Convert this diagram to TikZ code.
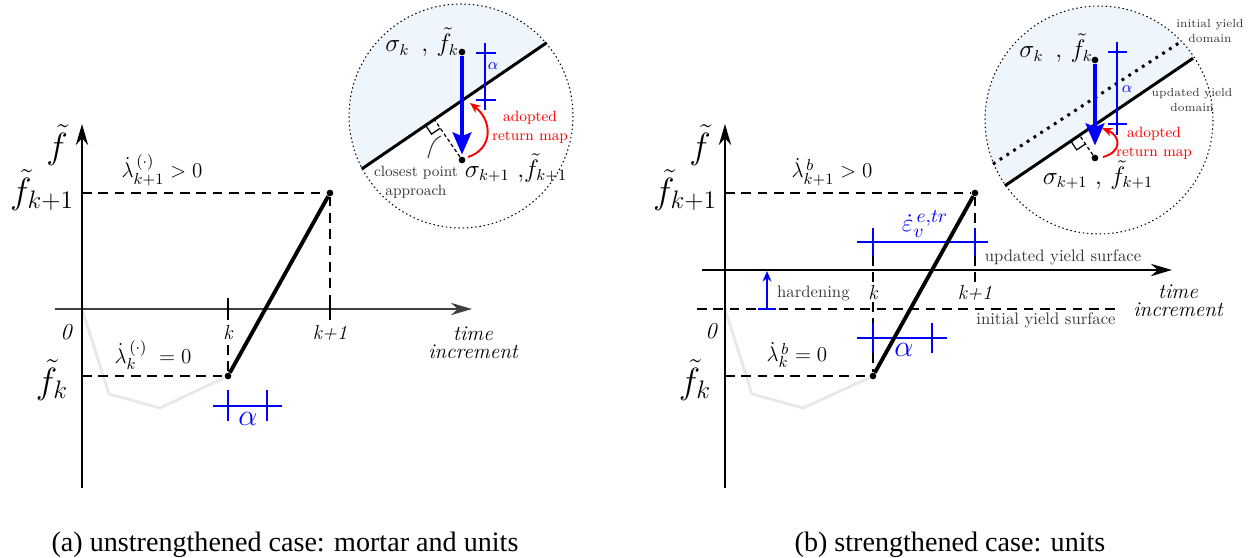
\documentclass[tikz,border=0pt]{standalone}
\usepackage{fontspec}
\newfontfamily\capfont{Liberation Serif}
\usetikzlibrary{arrows.meta,calc}

\definecolor{domainblue}{RGB}{238,246,252}
\definecolor{pathgray}{RGB}{232,232,232}
\definecolor{textgray}{RGB}{55,55,55}

\begin{document}
\begin{tikzpicture}[x=0.02cm,y=-0.02cm,
  axisline/.style={line width=1.1pt,-{Stealth[length=12pt,width=7pt]}},
  guide/.style={line width=0.8pt,dash pattern=on 5.5pt off 3.8pt},
  ramp/.style={line width=2.2pt},
  history/.style={line width=1.6pt,pathgray},
  bracket/.style={line width=1.2pt,blue},
  thinbracket/.style={line width=0.8pt,blue},
  vertex/.style={circle,fill=black,inner sep=0pt,minimum size=3.8pt},
  fval/.style={font=\fontsize{20}{22}\selectfont},
  rate/.style={font=\fontsize{12.5}{14}\selectfont},
  steplabel/.style={font=\fontsize{11.5}{13}\selectfont\itshape},
  remark/.style={font=\fontsize{9.5}{11}\selectfont,text=textgray},
  inset/.style={line width=0.6pt,dash pattern=on 0.8pt off 1.6pt},
  yield/.style={line width=1.7pt},
  retmap/.style={line width=2.8pt,blue,-{Stealth[length=12.5pt,width=10.5pt,inset=2pt]}},
  adopt/.style={line width=1.1pt,red,-{Stealth[length=6pt,width=5pt]}},
  stress/.style={font=\fontsize{13.5}{15}\selectfont},
  note/.style={font=\fontsize{8.5}{11}\selectfont,align=center},
  domainlabel/.style={font=\fontsize{6.7}{8.5}\selectfont,align=center,text=textgray},
  perp/.style={line width=0.7pt,dash pattern=on 2pt off 1.5pt},
  subcap/.style={font=\capfont\fontsize{16}{18}\selectfont},
]
\useasboundingbox (0,0) rectangle (1249,558);

%% ---------------- (a) unstrengthened ----------------
\coordinate (aO) at (82,309);
\coordinate (aTop) at (82,124);
\coordinate (aBot) at (82,488);
\coordinate (aXL) at (55,309);
\coordinate (aXR) at (472,309);
\coordinate (aFk1) at (82,193);
\coordinate (aFk) at (82,376);
\node[vertex] (aPk) at (228,376) {};
\node[vertex] (aPk1) at (330,193) {};

% history of f
\draw[history] (aO) -- (109,394) -- (160,408) -- (aPk);

% axes
\draw[axisline,black!75] (aXL) -- (aXR);
\draw[axisline] (aBot) -- (aTop);

% guides and ticks
\draw[guide] (aFk1) -- (aPk1);
\draw[guide] (aPk1) -- (330,299);
\draw[guide] (aFk) -- (aPk);
\draw[guide] (228,345) -- (aPk);
\draw[line width=0.8pt] (228,298) -- (228,320) (330,298) -- (330,320);

% trial step
\draw[ramp] (aPk) -- (aPk1);

% alpha
\draw[bracket] (213,406) -- (282,406) (228,390) -- (228,421) (267,390) -- (267,421);
\node[blue,font=\fontsize{16}{18}\selectfont] (aAlpha) at (248,419) {$\alpha$};

% labels
\node[fval] (aF) at (57,145) {$\tilde{f}$};
\node[fval] (aFk1l) at (42,190) {$\tilde{f}_{k+1}$};
\node[fval] (aFkl) at (52,380) {$\tilde{f}_k$};
\node[steplabel,font=\fontsize{13}{15}\selectfont\itshape] (aZero) at (66,332) {0};
\node[steplabel] (aK) at (228,333) {k};
\node[steplabel] (aK1) at (330,333) {k+1};
\node[steplabel,font=\fontsize{12}{10.3}\selectfont\itshape,align=center] (aTime) at (473,343) {time\\increment};
\node[rate] (aRk1) at (162,170) {$\dot{\lambda}^{\,(\cdot)}_{k+1} > 0$};
\node[rate] (aRk) at (153,355) {$\dot{\lambda}^{\,(\cdot)}_{k} \; = 0$};

% inset: return map
\coordinate (aC) at (461,116);
\coordinate (aYa) at (361.7,169);
\coordinate (aYb) at (546.7,42.7);
\begin{scope}
  \clip (aC) circle[radius=112];
  \fill[domainblue] ($(aYa)!-0.3!(aYb)$) -- ($(aYb)!-0.3!(aYa)$) -- ++(0,-150) -- ++(-400,0) -- cycle;
\end{scope}
\draw[inset] (aC) circle[radius=112];
\draw[yield] (aYa) -- (aYb);
\node[vertex] (aSk) at (462,52) {};
\node[vertex] (aSk1) at (462,160) {};
\coordinate (aFoot) at ($(aYa)!(aSk1)!(aYb)$);
\draw[perp] (aSk1) -- (aFoot);
\coordinate (aRa) at ($(aFoot)!6pt!(aYa)$);
\coordinate (aRb) at ($(aFoot)!6pt!(aSk1)$);
\draw[line width=0.7pt] (aRa) -- ($(aRa)+(aRb)-(aFoot)$) -- (aRb);
\draw[retmap,shorten >=1pt] (aSk) -- (aSk1);
\draw[thinbracket] (485,43) -- (485,110) (476,53) -- (496,53) (476,100) -- (496,100);
\node[blue,font=\fontsize{9.5}{11}\selectfont] (aAlphaIn) at (493,66) {$\alpha$};
\coordinate (aRetS) at (468,157);
\coordinate (aRetE) at (470,103);
\draw[adopt] (aRetS) .. controls +(25,-8) and +(23,18) .. (aRetE);
\node[note,text=red] (aAdopt) at (530,127) {adopted\\return map};
\node[note,text=textgray] (aClose) at (416,182) {closest point\\approach};
\coordinate (aPtr) at (441,136);
\draw[line width=0.6pt,textgray] (428,158) .. controls (431,148) and (432,140) .. (aPtr);
\node[stress] (aSkl) at (422,42) {$\sigma_k\ \,,\,\tilde{f}_k$};
\node[stress] (aSk1l) at (516,168) {$\sigma_{k+1}\ ,\!\tilde{f}_{k+1}$};

%% ---------------- (b) strengthened ----------------
\coordinate (bO) at (725,309);
\coordinate (bTop) at (725,124);
\coordinate (bBot) at (725,488);
\coordinate (bUL) at (702,270);
\coordinate (bUR) at (1172,270);
\coordinate (bIL) at (697,309);
\coordinate (bIR) at (1115,309);
\coordinate (bFk1) at (725,193);
\coordinate (bFk) at (725,376);
\node[vertex] (bPk) at (873,376) {};
\node[vertex] (bPk1) at (975,193) {};

% history of f
\draw[history] (bO) -- (752,394) -- (803,408) -- (bPk);

% axes
\draw[axisline] (bBot) -- (bTop);
\draw[axisline] (bUL) -- (bUR);
\draw[guide] (bIL) -- (bIR);

% guides
\draw[guide] (bFk1) -- (bPk1);
\draw[guide] (bFk) -- (bPk);
\draw[guide] (bPk1) -- (975,228);
\draw[guide] (975,256) -- (975,282);
\draw[guide] (873,256) -- (873,282);
\draw[guide] (873,302) -- (873,323);
\draw[guide] (873,353) -- (bPk);

% brackets
\draw[bracket] (857,242) -- (988,242) (873,228) -- (873,256) (975,228) -- (975,256);
\draw[bracket] (857,338) -- (947,338) (873,323) -- (873,353) (932,323) -- (932,353);

% trial step
\draw[ramp] (bPk) -- (bPk1);

% hardening
\coordinate (bHb) at (767,309);
\coordinate (bHt) at (767,271);
\draw[blue,line width=1.2pt,-{Stealth[length=6pt,width=5pt]}] (bHb) -- (bHt);
\draw[blue,line width=1.2pt] (758,309) -- (776,309);

% labels
\node[fval] (bF) at (700,145) {$\tilde{f}$};
\node[fval] (bFk1l) at (685,190) {$\tilde{f}_{k+1}$};
\node[fval] (bFkl) at (695,380) {$\tilde{f}_k$};
\node[steplabel,font=\fontsize{13}{15}\selectfont\itshape] (bZero) at (711,331) {0};
\node[steplabel] (bK) at (873,293) {k};
\node[steplabel] (bK1) at (975,293) {k+1};
\node[steplabel,font=\fontsize{12}{10.3}\selectfont\itshape,align=center] (bTime) at (1178,301) {time\\increment};
\node[remark,anchor=west] (bHard) at (771,293) {hardening};
\node[remark] (bUpd) at (1063,257) {updated yield surface};
\node[remark] (bIni) at (1046,320) {initial yield surface};
\node[rate] (bRk1) at (832,172) {$\dot{\lambda}^{\,b}_{k+1} > 0$};
\node[rate] (bRk) at (797,355) {$\dot{\lambda}^{\,b}_{k} = 0$};
\node[blue,font=\fontsize{15}{17}\selectfont] (bEps) at (925,224) {$\dot{\varepsilon}_v^{\,e,tr}$};
\node[blue,font=\fontsize{16}{18}\selectfont] (bAlpha) at (904,350) {$\alpha$};

% inset: return map with hardening
\coordinate (bC) at (1099,120);
\coordinate (bYa) at (1005,185.7);
\coordinate (bYb) at (1193,58.3);
\coordinate (bIa) at (993,164);
\coordinate (bIb) at (1180,42.3);
\begin{scope}
  \clip (bC) circle[radius=114];
  \fill[domainblue] ($(bYa)!-0.3!(bYb)$) -- ($(bYb)!-0.3!(bYa)$) -- ++(0,-150) -- ++(-400,0) -- cycle;
\end{scope}
\draw[inset] (bC) circle[radius=114];
\draw[line width=1.7pt,dash pattern=on 1.6pt off 3pt] (bIa) -- (bIb);
\draw[yield] (bYa) -- (bYb);
\node[vertex] (bSk) at (1095,60) {};
\node[vertex] (bSk1) at (1095,158) {};
\coordinate (bFoot) at ($(bYa)!(bSk1)!(bYb)$);
\draw[perp] (bSk1) -- (bFoot);
\coordinate (bRa) at ($(bFoot)!6pt!(bYa)$);
\coordinate (bRb) at ($(bFoot)!6pt!(bSk1)$);
\draw[line width=0.7pt] (bRa) -- ($(bRa)+(bRb)-(bFoot)$) -- (bRb);
\draw[retmap,shorten >=5pt] (bSk) -- (bSk1);
\draw[thinbracket] (1117,42) -- (1117,135) (1108,52) -- (1127,52) (1108,124) -- (1127,124);
\node[blue,font=\fontsize{9.5}{11}\selectfont] (bAlphaIn) at (1127,89) {$\alpha$};
\coordinate (bRetS) at (1103,157);
\coordinate (bRetE) at (1102,128);
\draw[adopt] (bRetS) .. controls +(19,-5) and +(19,8) .. (bRetE);
\node[note,text=red] (bAdopt) at (1154,143) {adopted\\return map};
\node[stress] (bSkl) at (1056,48) {$\sigma_k\ \,,\,\tilde{f}_k$};
\node[stress] (bSk1l) at (1098,175) {$\sigma_{k+1}\ ,\,\tilde{f}_{k+1}$};
\node[domainlabel] (bIniD) at (1210,31) {initial yield\\domain};
\node[domainlabel] (bUpdD) at (1192,100) {updated yield\\domain};

% captions
\node[subcap] (capA) at (285,545) {(a) unstrengthened case: mortar and units};
\node[subcap] (capB) at (950,545) {(b) strengthened case: units};
\end{tikzpicture}
\end{document}
